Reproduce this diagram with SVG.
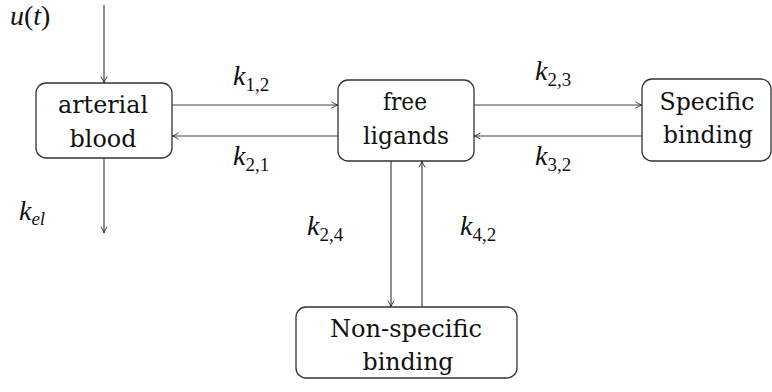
<svg xmlns="http://www.w3.org/2000/svg" width="772" height="392" viewBox="0 0 772 392">
<style>
.box{fill:#fff;stroke:#333;stroke-width:1.3}
.t{font-family:"DejaVu Serif",serif;font-size:24px;fill:#111;text-anchor:middle}
.m{font-family:"Liberation Serif",serif;font-size:28px;font-style:italic;fill:#111}
.s{font-style:normal;font-size:19px}
.si{font-size:19px}
.c{stroke:#444;stroke-width:1.2;fill:none;marker-end:url(#a)}
</style>
<defs>
<marker id="a" viewBox="0 0 10 10" refX="9" refY="5" markerWidth="8" markerHeight="8" markerUnits="userSpaceOnUse" orient="auto">
<path d="M1,1 Q5,4 9,5 Q5,6 1,9" fill="none" stroke="#333" stroke-width="1.2"/>
</marker>
</defs>
<g id="connectors">
<line class="c" x1="104" y1="5" x2="104" y2="83"/>
<line class="c" x1="104" y1="158" x2="104" y2="233"/>
<line class="c" x1="172" y1="105" x2="338" y2="105"/>
<line class="c" x1="338" y1="136" x2="172" y2="136"/>
<line class="c" x1="474" y1="105" x2="642" y2="105"/>
<line class="c" x1="642" y1="136" x2="474" y2="136"/>
<line class="c" x1="391" y1="161" x2="391" y2="307"/>
<line class="c" x1="422" y1="307" x2="422" y2="161"/>
</g>
<g id="arterial">
<rect class="box" x="36" y="83" width="136" height="75" rx="10"/>
<text class="t" x="103" y="113" textLength="90" lengthAdjust="spacingAndGlyphs">arterial</text>
<text class="t" x="103" y="147" textLength="67" lengthAdjust="spacingAndGlyphs">blood</text>
</g>
<g id="free">
<rect class="box" x="338" y="80" width="136" height="81" rx="10"/>
<text class="t" x="405" y="110" textLength="44" lengthAdjust="spacingAndGlyphs">free</text>
<text class="t" x="406" y="144" textLength="86" lengthAdjust="spacingAndGlyphs">ligands</text>
</g>
<g id="specific">
<rect class="box" x="642" y="79" width="129" height="82" rx="10"/>
<text class="t" x="707" y="110" textLength="95" lengthAdjust="spacingAndGlyphs">Specific</text>
<text class="t" x="708" y="143" textLength="90" lengthAdjust="spacingAndGlyphs">binding</text>
</g>
<g id="nonspecific">
<rect class="box" x="296" y="307" width="221" height="71" rx="10"/>
<text class="t" x="406" y="337" textLength="152" lengthAdjust="spacingAndGlyphs">Non-specific</text>
<text class="t" x="408" y="370" textLength="91" lengthAdjust="spacingAndGlyphs">binding</text>
</g>
<g id="labels">
<text class="m" x="10" y="25">u<tspan font-style="normal">(</tspan>t<tspan font-style="normal">)</tspan></text>
<text class="m" x="19" y="220">k<tspan class="si" dy="5">el</tspan></text>
<text class="m" x="233" y="85">k<tspan class="s" dy="6">1,2</tspan></text>
<text class="m" x="233" y="165">k<tspan class="s" dy="6">2,1</tspan></text>
<text class="m" x="535" y="80">k<tspan class="s" dy="6">2,3</tspan></text>
<text class="m" x="535" y="165">k<tspan class="s" dy="6">3,2</tspan></text>
<text class="m" x="307" y="235">k<tspan class="s" dy="6">2,4</tspan></text>
<text class="m" x="460" y="235">k<tspan class="s" dy="6">4,2</tspan></text>
</g>
</svg>
